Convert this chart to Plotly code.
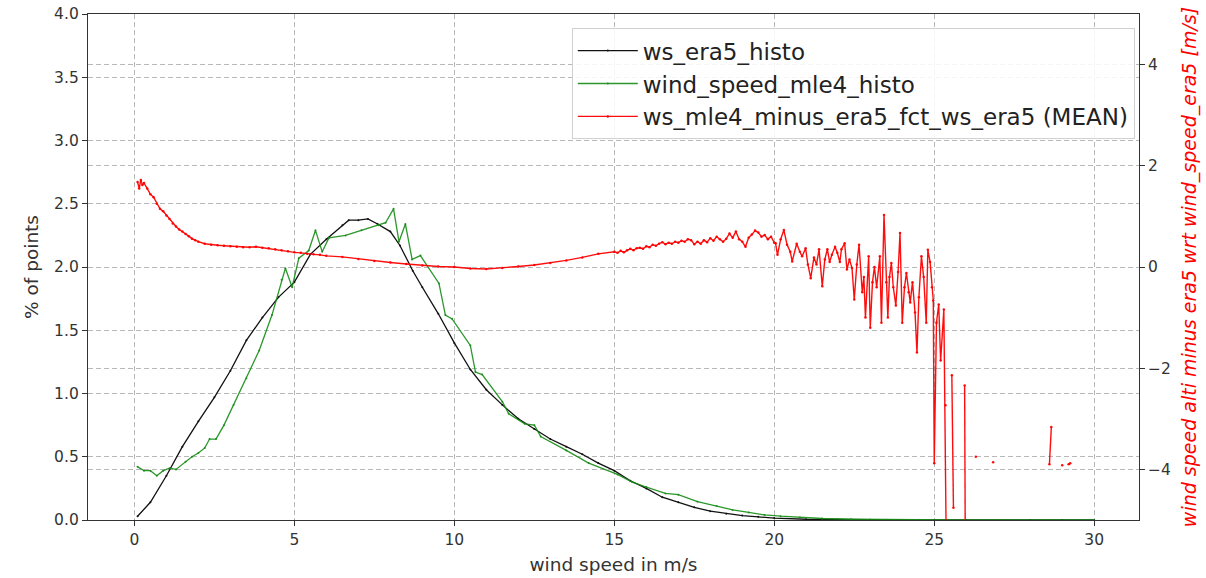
import plotly.graph_objects as go

# ---------------- data ----------------
black_x = [0.1, 0.5, 1.0, 1.5, 2.0, 2.5, 3.0, 3.5, 4.0, 4.5, 5.0, 5.5, 6.0, 6.5, 6.7, 7.0, 7.3, 7.6,
           8.0, 8.3, 8.7, 9.0, 9.5, 10.0, 10.5, 11.0, 11.5, 12.0, 12.5, 13.0, 13.5, 14.0, 14.5, 15.0,
           15.5, 16.0, 16.5, 17.0, 17.5, 18.0, 18.5, 19.0, 19.5, 20.0, 21.0, 22.0, 23.0, 24.0, 25.0,
           26.0, 27.0, 28.0, 29.0, 30.0]
black_y = [0.03, 0.14, 0.35, 0.58, 0.78, 0.97, 1.18, 1.42, 1.60, 1.76, 1.88, 2.10, 2.22, 2.33, 2.37,
           2.37, 2.38, 2.34, 2.28, 2.17, 1.97, 1.84, 1.63, 1.40, 1.19, 1.03, 0.91, 0.80, 0.72, 0.64,
           0.58, 0.52, 0.45, 0.39, 0.31, 0.25, 0.18, 0.14, 0.10, 0.07, 0.05, 0.035, 0.025, 0.015,
           0.006, 0.003, 0.001, 0.0, 0.0, 0.0, 0.0, 0.0, 0.0, 0.0]

green_x = [0.1, 0.3, 0.5, 0.7, 0.9, 1.1, 1.3, 1.6, 1.8, 2.0, 2.2, 2.35, 2.55, 2.8, 3.1, 3.5, 3.9,
           4.3, 4.6, 4.72, 4.93, 5.14, 5.45, 5.66, 5.87, 6.08, 6.6, 7.1, 7.64, 7.85, 8.1, 8.27, 8.47,
           8.68, 8.94, 9.52, 9.72, 9.93, 10.5, 10.66, 10.87, 11.5, 11.7, 12.2, 12.5, 12.7, 13.5,
           14.2, 15.1, 15.56, 16.0, 16.6, 17.0, 17.6, 18.2, 18.7, 19.2, 19.7, 20.2, 20.8, 21.5,
           22.4, 23.5, 24.5, 25.5, 27.0, 28.5, 30.0]
green_y = [0.42, 0.39, 0.39, 0.35, 0.39, 0.41, 0.40, 0.46, 0.50, 0.53, 0.57, 0.64, 0.64, 0.75, 0.91,
           1.12, 1.34, 1.62, 1.90, 1.99, 1.84, 2.07, 2.13, 2.29, 2.12, 2.23, 2.25, 2.29, 2.33, 2.35,
           2.46, 2.20, 2.34, 2.06, 2.09, 1.87, 1.62, 1.59, 1.38, 1.17, 1.15, 0.935, 0.84, 0.76, 0.75,
           0.66, 0.55, 0.45, 0.36, 0.30, 0.26, 0.21, 0.20, 0.145, 0.11, 0.08, 0.06, 0.04, 0.03, 0.02,
           0.012, 0.006, 0.002, 0.001, 0.0, 0.0, 0.0, 0.0]

red_x = [0.10, 0.15, 0.2, 0.25, 0.3, 0.4, 0.5, 0.6, 0.7, 0.8, 0.9, 1.0, 1.1, 1.2, 1.3, 1.4, 1.5,
         1.6, 1.7, 1.8, 1.9, 2.0, 2.2, 2.4, 2.6, 2.8, 3.0, 3.2, 3.4, 3.6, 3.8, 4.0, 4.2, 4.4, 4.6,
         4.8, 5.0, 5.2, 5.4, 5.6, 5.8, 6.0, 6.5, 7.0, 7.5, 8.0, 8.5, 9.0, 9.5, 10.0, 10.5, 11.0,
         11.5, 12.0, 12.5, 13.0, 13.5, 14.0, 14.5,
         15.0, 15.1, 15.2, 15.3, 15.4, 15.5, 15.6, 15.7, 15.8, 15.9, 16.0, 16.1, 16.2, 16.3, 16.4,
         16.5, 16.6, 16.7, 16.8, 16.9, 17.0, 17.1, 17.2, 17.3, 17.4, 17.5, 17.6, 17.7, 17.8, 17.9,
         18.0, 18.1, 18.2, 18.3, 18.4, 18.5, 18.6, 18.7, 18.8, 18.9, 19.0, 19.1, 19.2, 19.3, 19.4,
         19.5, 19.6, 19.7, 19.8, 19.9, 20.0,
         20.04, 20.1, 20.2, 20.3, 20.4, 20.5, 20.56, 20.7, 20.8, 20.87, 20.98, 21.05, 21.14, 21.24,
         21.32, 21.4, 21.5, 21.58, 21.66, 21.73, 21.8, 21.9, 21.97, 22.05, 22.1, 22.2, 22.27, 22.35,
         22.43, 22.5, 22.58, 22.65, 22.75, 22.8, 22.85, 22.95, 23.0, 23.07, 23.13, 23.2, 23.3,
         23.35, 23.43, 23.5, 23.55, 23.6, 23.66, 23.72, 23.8, 23.87, 23.93, 24.0, 24.07, 24.13,
         24.2, 24.25, 24.32, 24.4, 24.46, 24.52, 24.6, 24.67, 24.75, 24.8, 24.87, 24.93, 24.97,
         25.0, 25.07, 25.14, 25.2, 25.3, 25.35, 25.4, None, 25.55, 25.6, None, 25.95, 25.98, None,
         26.3, None, 26.84, None, 28.6, 28.66, None, 29.0, None, 29.2, 29.25]
red_y = [1.68, 1.55, 1.72, 1.62, 1.66, 1.55, 1.44, 1.38, 1.25, 1.15, 1.10, 1.02, 0.95, 0.86, 0.80,
         0.74, 0.70, 0.65, 0.61, 0.56, 0.53, 0.50, 0.46, 0.44, 0.43, 0.42, 0.41, 0.40, 0.39, 0.39,
         0.40, 0.38, 0.37, 0.35, 0.33, 0.31, 0.29, 0.28, 0.26, 0.25, 0.24, 0.22, 0.20, 0.16, 0.12,
         0.09, 0.06, 0.03, 0.01, 0.0, -0.03, -0.04, -0.02, 0.01, 0.04, 0.08, 0.13, 0.19, 0.26,
         0.30, 0.28, 0.32, 0.29, 0.33, 0.36, 0.33, 0.37, 0.38, 0.36, 0.41, 0.39, 0.44, 0.42, 0.46,
         0.49, 0.45, 0.48, 0.46, 0.50, 0.48, 0.52, 0.50, 0.55, 0.53, 0.45, 0.50, 0.46, 0.53, 0.49,
         0.57, 0.52, 0.60, 0.55, 0.50, 0.56, 0.66, 0.58, 0.70, 0.55, 0.50, 0.40, 0.58, 0.64, 0.72,
         0.68, 0.60, 0.63, 0.55, 0.60, 0.48,
         0.47, 0.24, 0.55, 0.73, 0.44, 0.30, 0.11, 0.46, 0.30, 0.21, 0.37, 0.05, -0.22, 0.19,
         0.05, 0.35, -0.38, 0.15, 0.35, 0.10, 0.24, 0.40, 0.28, 0.10, 0.35, 0.47, -0.05, 0.15,
         -0.02, -0.64, 0.05, 0.44, -0.50, -0.20, -1.00, 0.21, -1.20, -0.30, 0.0, -0.40, 0.21,
         -1.10, 1.03, -0.30, -1.00, -0.20, 0.08, -0.40, -0.76, -0.10, 0.67, -1.10, -0.40, -0.12,
         -0.50, -0.70, -0.30, -0.90, -1.69, -0.60, 0.21, -0.20, -1.10, 0.34, 0.10, -0.40, -0.66,
         -3.88, -1.10, -0.74, -1.85, -0.84, -2.73, -7.0, None, -2.14, -4.76, None, -2.34, -7.0, None,
         -3.75, None, -3.86, None, -3.90, -3.16, None, -3.92, None, -3.90, -3.88]

x_ticks = [0, 5, 10, 15, 20, 25, 30]
y_ticks = [0.0, 0.5, 1.0, 1.5, 2.0, 2.5, 3.0, 3.5, 4.0]
y2_ticks = [-4, -2, 0, 2, 4]

# ---------------- figure ----------------
FONT = "DejaVu Sans"
GRID = "#b8b8b8"

fig = go.Figure()
fig.add_trace(go.Scatter(x=black_x, y=black_y, name="ws_era5_histo", mode="lines+markers",
                         line=dict(color="#111111", width=1.3), marker=dict(size=2),
                         legendgroup="a"))
fig.add_trace(go.Scatter(x=green_x, y=green_y, name="wind_speed_mle4_histo", mode="lines+markers",
                         line=dict(color="rgba(20,140,20,0.9)", width=1.3), marker=dict(size=2),
                         legendgroup="b"))
fig.add_trace(go.Scatter(x=red_x, y=red_y, name="ws_mle4_minus_era5_fct_ws_era5 (MEAN)",
                         mode="lines+markers", yaxis="y2", connectgaps=False,
                         line=dict(color="rgba(255,0,0,0.95)", width=1.4), marker=dict(size=2.5),
                         legendgroup="c"))

fig.update_layout(
    width=1206, height=578,
    margin=dict(l=88, r=67, t=14, b=58),
    paper_bgcolor="white", plot_bgcolor="white",
    font=dict(family=FONT, size=15.5, color="#333333"),
    showlegend=True,
    legend=dict(x=0.996, y=0.972, xanchor="right", yanchor="top",
                bgcolor="rgba(255,255,255,0.85)", bordercolor="#d0d0d0", borderwidth=1,
                font=dict(family=FONT, size=23, color="#222222"), itemwidth=60,
                traceorder="grouped", tracegroupgap=0),
    xaxis=dict(range=[-1.45, 31.4], tickvals=x_ticks, ticks="outside", ticklen=5,
               tickcolor="#333", showline=True, linecolor="#333", linewidth=1.3, mirror=True,
               showgrid=True, gridcolor=GRID, griddash="5px,3px", gridwidth=1, zeroline=False,
               automargin=False,
               title=dict(text="wind speed in m/s", font=dict(size=18.5, color="#333"), standoff=10)),
    yaxis=dict(range=[0, 4], tickvals=y_ticks, tickformat=".1f", ticks="outside", ticklen=5,
               tickcolor="#333", showline=True, linecolor="#333", linewidth=1.3, mirror=True,
               showgrid=True, gridcolor=GRID, griddash="5px,3px", gridwidth=1, zeroline=False,
               automargin=False,
               title=dict(text="% of points", font=dict(size=18.5, color="#333"), standoff=10)),
    yaxis2=dict(range=[-5, 5], tickvals=y2_ticks, overlaying="y", side="right",
                ticks="outside", ticklen=5, tickcolor="#333", showline=False,
                showgrid=True, gridcolor=GRID, griddash="5px,3px", gridwidth=1, zeroline=False,
                automargin=False,
                title=dict(text="<i>wind speed alti minus era5 wrt wind_speed_era5 [m/s]</i>",
                           font=dict(size=19, color="red"), standoff=12)),
)

fig.write_html("out.html")
